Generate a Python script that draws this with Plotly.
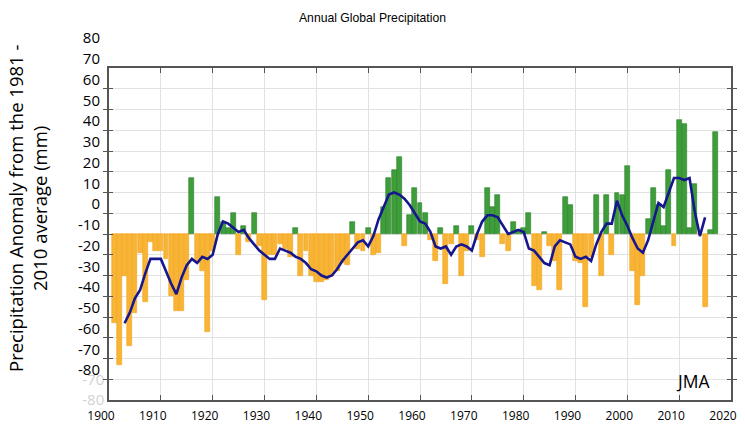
import plotly.graph_objects as go

# ---------------- data ----------------
years = list(range(1901, 2018))
anomaly = [
    -43, -63, -20, -54, -38, -9, -33, -4, -8, -8,        # 1901-1910
    -12, -30, -37, -37, -22, 27, -13, -18, -47, -8,      # 1911-1920
    18, 6, 3, 10, -10, 4, -4, 10, -6, -32,               # 1921-1930
    -10, -10, -5, -7, -11, 3, -20, -8, -20, -23,         # 1931-1940
    -23, -22, -20, -18, -14, -15, 6, -7, -8, 3,          # 1941-1950
    -10, -9, 13, 27, 31, 37, -6, 9, 22, 15,              # 1951-1960
    10, -3, -13, 3, -24, -5, 4, -20, -8, 4,              # 1961-1970
    -3, -11, 22, 13, 19, -5, -8, 6, 2, 3,                # 1971-1980
    10, -25, -27, 1, -6, -13, -27, 18, 14, -13,          # 1981-1990
    -14, -35, -11, 19, -20, 19, -10, 20, 19, 33,         # 1991-2000
    -18, -34, -20, 7, 22, 14, 4, 31, -6, 55,             # 2001-2010
    53, 3, 24, 0, -35, 2, 49,                            # 2011-2017
]

mean_years = list(range(1903, 2016))
running_mean = [
    -43, -38, -31, -27, -19, -12, -12, -12,              # 1903-1910
    -18, -24, -29, -21, -15, -12, -14, -11, -12, -10,    # 1911-1920
    0, 6, 5, 3, 1, 2, -2, -5, -8, -10,                   # 1921-1930
    -12, -12, -7, -8, -9, -11, -12, -14, -17, -18,       # 1931-1940
    -20, -21, -20, -17, -13, -10, -7, -4, -3, -6,        # 1941-1950
    -1, 7, 13, 19, 20, 19, 17, 14, 10, 6,                # 1951-1960
    5, 1, -6, -7, -6, -10, -6, -5, -6, -8,               # 1961-1970
    0, 6, 9, 9, 8, 4, 0, 1, 2, 1,                        # 1971-1980
    -7, -8, -11, -14, -15, -6, -3, -4, -5, -11,          # 1981-1990
    -12, -11, -13, -5, 1, 5, 5, 16, 9, 4,                # 1991-2000
    -2, -7, -9, -3, 6, 15, 13, 20, 27, 27,               # 2001-2010
    26, 27, 11, -1, 8,                                   # 2011-2015
]

x_tick_values = list(range(1900, 2021, 10))
x_tick_labels = [str(v) for v in x_tick_values]
y_label_values = list(range(80, -81, -10))
y_label_texts = [str(v) for v in y_label_values]
grid_values = list(range(-80, 81, 10))
faint_labels = {-70: "-70", -80: "-80"}

# ---------------- styling ----------------
GREEN = "#3e9e3a"
GREEN_EDGE = "#2e7d2b"
ORANGE = "#f8b435"
ORANGE_EDGE = "#f3a51f"
LINE = "#16168f"
FONT = "Open Sans"

W, H = 745, 425
ML, MR, MT, MB = 109, 14, 30, 25
paper_w = W - ML - MR
paper_h = H - MT - MB          # 370
plot_top_px = 68
plot_bot_px = 400
main_dom_top = (plot_bot_px - plot_top_px) / paper_h
lab_top_px, lab_bot_px = 38, 370
lab_dom = [(plot_bot_px - lab_bot_px) / paper_h, (plot_bot_px - lab_top_px) / paper_h]

bar_colors = [GREEN if v > 0 else ORANGE for v in anomaly]
edge_colors = [GREEN_EDGE if v > 0 else ORANGE_EDGE for v in anomaly]

fig = go.Figure()
fig.add_trace(go.Bar(
    x=years, y=anomaly, width=0.95,
    marker=dict(color=bar_colors, line=dict(color=edge_colors, width=0.6)),
    showlegend=False, hoverinfo="x+y",
))
fig.add_trace(go.Scatter(
    x=mean_years, y=running_mean, mode="lines",
    line=dict(color=LINE, width=2.6), showlegend=False,
))
# carriers for the label-only axes
fig.add_trace(go.Scatter(x=[None], y=[None], xaxis="x2", yaxis="y2",
                         showlegend=False, hoverinfo="skip"))
fig.add_trace(go.Scatter(x=[None], y=[None], xaxis="x3", yaxis="y",
                         showlegend=False, hoverinfo="skip"))

axis_line = dict(showline=True, linecolor="#555555", linewidth=1.5, mirror="allticks",
                 ticks="inside", tickcolor="#555555", automargin=False,
                 showgrid=True, gridcolor="#e2e2e2", gridwidth=1, zeroline=False)

fig.update_layout(
    width=W, height=H,
    margin=dict(l=ML, r=MR, t=MT, b=MB),
    paper_bgcolor="white", plot_bgcolor="rgba(0,0,0,0)",
    bargap=0,
    font=dict(family=FONT, color="black"),
    title=dict(text="Annual Global Precipitation", x=0.5, xref="container",
               y=1 - 18 / H, yref="container", xanchor="center", yanchor="middle",
               font=dict(size=12.2, family="Liberation Sans, Arial", color="black")),
    xaxis=dict(
        range=[1900, 2020], tickvals=x_tick_values, showticklabels=False,
        ticklen=5, anchor="y", domain=[0, 1], **axis_line,
    ),
    xaxis3=dict(
        range=[1900, 2020], overlaying="x", anchor="free", position=0,
        tickvals=x_tick_values, ticktext=x_tick_labels,
        tickfont=dict(size=12, color="black"), ticklabelshift=-8,
        ticks="outside", ticklen=5, tickcolor="rgba(0,0,0,0)",
        showline=False, showgrid=False, zeroline=False, automargin=False,
    ),
    yaxis=dict(
        domain=[0, main_dom_top], range=[-80, 80],
        tickvals=grid_values,
        ticktext=[faint_labels.get(v, "") for v in grid_values],
        tickfont=dict(size=15, color="#d2d2d2"),
        ticklen=4, anchor="x", **axis_line,
    ),
    xaxis2=dict(domain=[0, 1], range=[1900, 2020], visible=False,
                anchor="y2", showgrid=False, automargin=False),
    yaxis2=dict(
        domain=lab_dom, range=[-80, 80], anchor="x2", side="left",
        tickvals=y_label_values, ticktext=y_label_texts,
        tickfont=dict(size=15, color="black"),
        showgrid=False, showline=False, zeroline=False, automargin=False,
        ticks="outside", ticklen=5, tickcolor="rgba(0,0,0,0)",
    ),
    annotations=[
        dict(text="Precipitation Anomaly from the 1981 -<br>2010 average (mm)",
             xref="paper", yref="paper", x=(27 - ML) / paper_w,
             y=(plot_bot_px - 209) / paper_h,
             xanchor="center", yanchor="middle",
             textangle=-90, showarrow=False, align="center",
             font=dict(size=18.5, family=FONT, color="black")),
        dict(text="JMA", xref="paper", yref="paper",
             x=(693 - ML) / paper_w, y=(plot_bot_px - 381) / paper_h,
             xanchor="center", yanchor="middle",
             showarrow=False, font=dict(size=17.5, family=FONT, color="black")),
    ],
)

fig.write_html("out.html")
